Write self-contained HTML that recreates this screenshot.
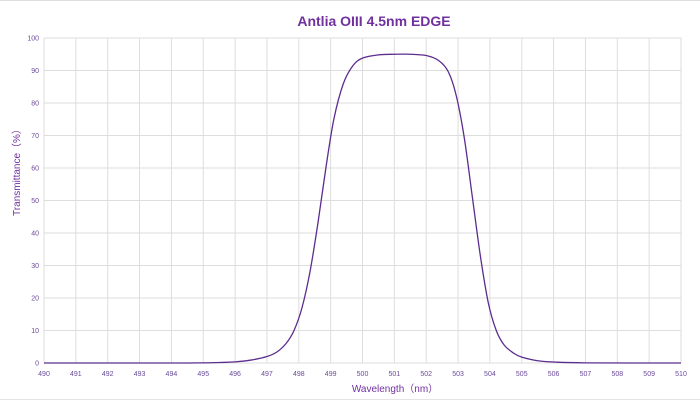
<!DOCTYPE html>
<html><head><meta charset="utf-8"><style>
body{margin:0;background:#fff;}
svg{display:block;font-family:"Liberation Sans",sans-serif;}
</style></head><body>
<svg id="s" width="700" height="401" viewBox="0 0 700 401">
<line x1="0" y1="0.5" x2="700" y2="0.5" stroke="#ddd"/>
<line x1="0" y1="399.5" x2="700" y2="399.5" stroke="#e4e4e4"/>
<text x="374" y="26" text-anchor="middle" font-size="14" font-weight="bold" fill="#7030a0">Antlia OIII 4.5nm EDGE</text>
<g id="g"></g>
<text x="395" y="392" text-anchor="middle" font-size="10" fill="#7030a0">Wavelength（nm）</text>
<text transform="translate(20,170) rotate(-90)" text-anchor="middle" font-size="10" fill="#7030a0">Transmittance（%）</text>
</svg>
<script>
var g=document.getElementById('g'),h='';
var X=function(w){return 44+(w-490)*31.85},Y=function(t){return 363-t*3.25};
for(var i=0;i<=20;i++){var x=X(490+i);h+='<line x1="'+x+'" y1="38" x2="'+x+'" y2="363" stroke="#ddd" stroke-width="1"/>';
h+='<text x="'+x+'" y="376" text-anchor="middle" font-size="7" fill="#6a4a9a">'+(490+i)+'</text>';}
for(var j=0;j<=10;j++){var y=Y(j*10);h+='<line x1="44" y1="'+y+'" x2="681" y2="'+y+'" stroke="#ddd" stroke-width="1"/>';
h+='<text x="39" y="'+(y+2.5)+'" text-anchor="end" font-size="7" fill="#6a4a9a">'+(j*10)+'</text>';}
var p=[[490,0],[494,0],[495,0.05],[495.5,0.15],[496,0.35],[496.5,0.9],[497,2],[497.3,3.3],[497.6,6],[497.85,10],[498.1,17],[498.35,28],[498.6,43],[498.85,60],[499.1,75],[499.4,86],[499.7,91.5],[500,93.8],[500.5,94.8],[501,95],[501.5,95],[502,94.6],[502.4,93],[502.7,89.5],[502.95,82],[503.2,69],[503.45,51],[503.7,33],[503.95,18.5],[504.2,10],[504.45,5.5],[504.75,3],[505,1.8],[505.5,0.7],[506,0.3],[507,0.05],[510,0]];
var d='M'+X(p[0][0])+','+Y(p[0][1]);
for(var k=0;k<p.length-1;k++){var p0=p[Math.max(k-1,0)],p1=p[k],p2=p[k+1],p3=p[Math.min(k+2,p.length-1)];
var a=[X(p0[0]),Y(p0[1])],b=[X(p1[0]),Y(p1[1])],c=[X(p2[0]),Y(p2[1])],e=[X(p3[0]),Y(p3[1])];
var c1=[b[0]+(c[0]-a[0])/6,b[1]+(c[1]-a[1])/6],c2=[c[0]-(e[0]-b[0])/6,c[1]-(e[1]-b[1])/6];
c1[1]=Math.min(c1[1],363);c2[1]=Math.min(c2[1],363);
d+=' C'+c1.join(',')+' '+c2.join(',')+' '+c.join(',');}
h+='<path d="'+d+'" fill="none" stroke="#5b2d8e" stroke-width="1.3"/>';
g.innerHTML=h;
</script>
</body></html>
